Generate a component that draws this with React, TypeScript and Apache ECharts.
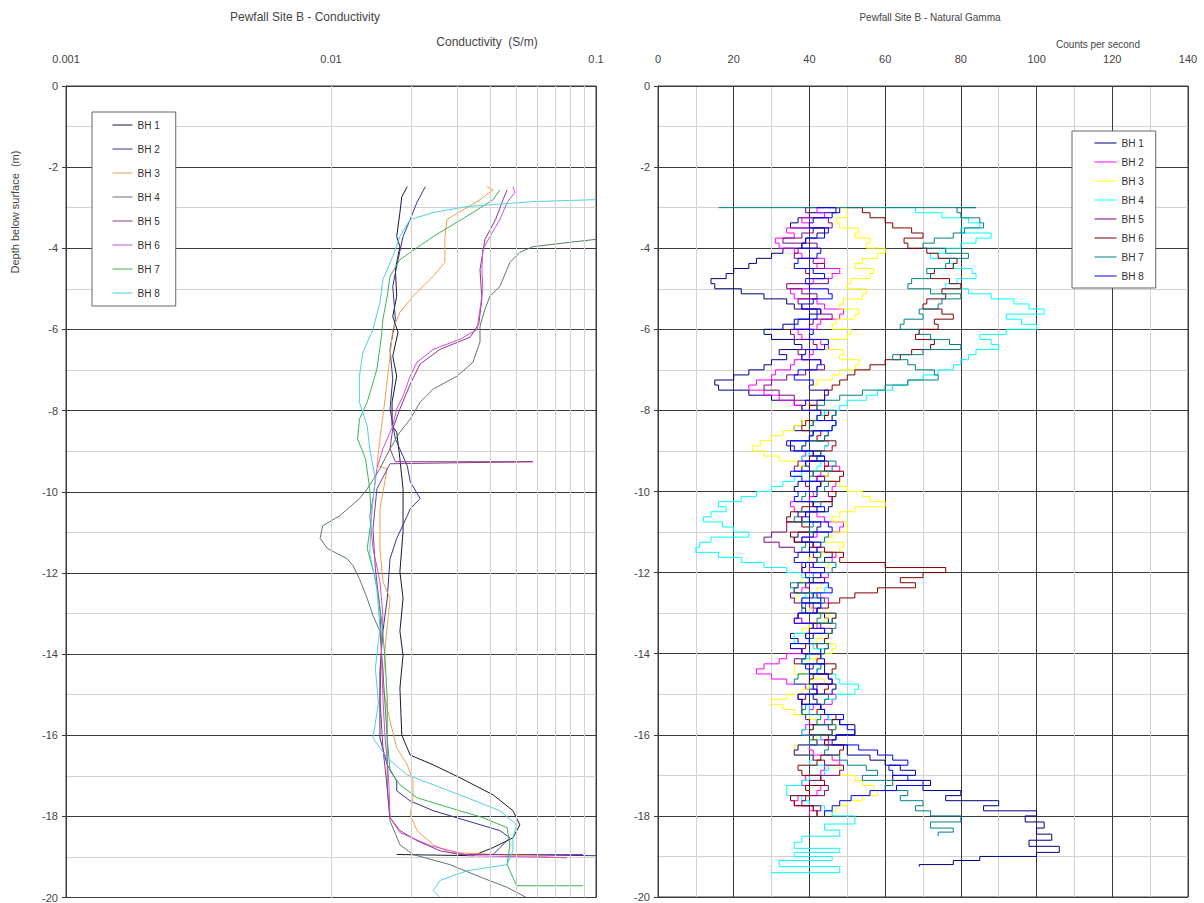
import React, { useEffect, useRef } from "react";
import * as echarts from "echarts";

// ---------- Conductivity (left) ----------
const COND_NAMES = ["BH 1", "BH 2", "BH 3", "BH 4", "BH 5", "BH 6", "BH 7", "BH 8"];
const COND_COLORS = ["#1a1a33", "#333399", "#f0a050", "#5f7a5f", "#8a3a8a", "#d050d0", "#3cb35a", "#50d0e0"];
const LOG_MINOR = [0.002, 0.003, 0.004, 0.005, 0.006, 0.007, 0.008, 0.009, 0.02, 0.03, 0.04, 0.05, 0.06, 0.07, 0.08, 0.09];
const X_TICKS_COND = [0.001, 0.01, 0.1];

const BH1_COND = [[0.0194, -2.48], [0.0185, -2.73], [0.0182, -3.12], [0.0177, -3.71], [0.0182, -3.96], [0.0175, -4.52], [0.0177, -5.18], [0.0171, -5.68], [0.0179, -6.07], [0.0171, -6.66], [0.0177, -7.15], [0.017, -7.79], [0.017, -8.38], [0.0177, -8.53], [0.0182, -9.19], [0.0187, -9.93], [0.0187, -10.98], [0.0182, -11.97], [0.0187, -12.63], [0.0182, -13.44], [0.0187, -14.03], [0.0182, -14.84], [0.0185, -16.0], [0.0199, -16.49], [0.0243, -16.73], [0.0307, -17.05], [0.0409, -17.47], [0.0486, -17.86], [0.0516, -18.21], [0.0486, -18.53], [0.0409, -18.77], [0.0343, -18.97], [0.0177, -18.94]];
const BH2_COND = [[0.0227, -2.48], [0.0211, -2.87], [0.0199, -3.29], [0.0187, -3.71], [0.0179, -4.28], [0.0171, -4.94], [0.0175, -5.75], [0.0167, -6.49], [0.0171, -7.22], [0.0167, -7.96], [0.0175, -8.7], [0.0194, -9.36], [0.0199, -9.75], [0.0217, -10.17], [0.0199, -10.42], [0.0194, -10.59], [0.0177, -11.15], [0.0167, -11.65], [0.0163, -12.63], [0.0157, -13.44], [0.0153, -14.42], [0.0153, -15.26], [0.0153, -16.07], [0.0163, -16.73], [0.0177, -17.13], [0.0177, -17.37], [0.0199, -17.62], [0.0243, -17.86], [0.0326, -18.11], [0.0434, -18.35], [0.0473, -18.53], [0.0434, -18.77], [0.0409, -18.94], [0.1, -18.97]];
const BH3_COND = [[0.0387, -2.48], [0.0409, -2.56], [0.0365, -2.8], [0.0274, -3.29], [0.0269, -3.71], [0.0269, -4.35], [0.0243, -4.69], [0.0204, -5.18], [0.0182, -5.58], [0.0171, -6.0], [0.0167, -6.66], [0.016, -7.71], [0.0153, -8.7], [0.0149, -9.36], [0.0163, -9.43], [0.0153, -10.42], [0.0153, -11.4], [0.0157, -12.21], [0.0167, -12.63], [0.016, -13.86], [0.0157, -14.84], [0.0167, -15.65], [0.0177, -16.31], [0.0194, -16.73], [0.0204, -17.13], [0.0204, -17.54], [0.0199, -17.96], [0.0211, -18.35], [0.0243, -18.7], [0.0281, -18.89], [0.0777, -19.02]];
const BH4_COND = [[0.1, -3.78], [0.0777, -3.86], [0.0578, -3.96], [0.0516, -4.1], [0.0473, -4.35], [0.0434, -4.94], [0.0398, -5.18], [0.0381, -5.5], [0.0365, -5.92], [0.0365, -6.31], [0.0343, -6.81], [0.0299, -7.15], [0.0243, -7.47], [0.0217, -7.79], [0.0199, -8.21], [0.0182, -8.53], [0.0167, -8.94], [0.0153, -9.43], [0.0137, -9.93], [0.0128, -10.17], [0.0108, -10.59], [0.0093, -10.84], [0.0091, -11.15], [0.0097, -11.4], [0.0115, -11.65], [0.0121, -11.82], [0.0128, -12.14], [0.0137, -12.63], [0.0144, -13.05], [0.0153, -13.44], [0.0157, -14.42], [0.0163, -16.07], [0.0163, -17.3], [0.0167, -18.11], [0.0182, -18.7], [0.0204, -18.94], [0.0281, -19.19], [0.0371, -19.51], [0.0462, -19.75], [0.0546, -20.0]];
const BH5_COND = [[0.0462, -2.56], [0.0446, -2.8], [0.0418, -3.29], [0.0381, -3.78], [0.0365, -4.52], [0.0371, -5.26], [0.0361, -5.87], [0.0335, -6.19], [0.0258, -6.49], [0.0217, -6.85], [0.0199, -7.35], [0.0182, -7.96], [0.0171, -8.45], [0.0167, -8.94], [0.0175, -9.26], [0.0578, -9.26], [0.0167, -9.31], [0.0149, -9.93], [0.0144, -10.91], [0.0147, -11.89], [0.0153, -12.87], [0.0155, -13.86], [0.0153, -15.09], [0.0157, -16.31], [0.0163, -17.3], [0.0167, -18.03], [0.0182, -18.35], [0.0211, -18.6], [0.0258, -18.85], [0.0307, -18.94], [0.0893, -18.94]];
const BH6_COND = [[0.0486, -2.48], [0.0494, -2.63], [0.0462, -2.87], [0.0434, -3.29], [0.0398, -3.71], [0.0374, -4.03], [0.0371, -4.52], [0.0374, -5.01], [0.0365, -5.5], [0.0356, -6.0], [0.0307, -6.24], [0.0243, -6.49], [0.0211, -6.81], [0.0199, -7.15], [0.0187, -7.64], [0.0177, -7.96], [0.0171, -8.38], [0.0157, -8.94], [0.0149, -9.43], [0.0144, -10.17], [0.014, -10.59], [0.0144, -11.4], [0.0153, -12.21], [0.0157, -13.05], [0.0155, -13.86], [0.0157, -15.09], [0.016, -16.07], [0.0165, -17.05], [0.0167, -18.03], [0.0182, -18.4], [0.0237, -18.72], [0.0335, -18.97], [0.0777, -19.02]];
const BH7_COND = [[0.0434, -2.56], [0.0409, -2.8], [0.0343, -3.12], [0.0243, -3.71], [0.0182, -4.28], [0.0167, -4.69], [0.0163, -5.18], [0.0157, -5.75], [0.0155, -6.17], [0.0149, -6.98], [0.0137, -7.79], [0.0128, -8.21], [0.0126, -8.7], [0.0135, -9.19], [0.014, -9.93], [0.0142, -10.66], [0.0137, -11.4], [0.0147, -12.14], [0.0155, -13.12], [0.016, -14.1], [0.0163, -15.09], [0.0163, -16.07], [0.0167, -16.88], [0.0182, -17.22], [0.0211, -17.54], [0.0281, -17.79], [0.0374, -18.03], [0.0462, -18.28], [0.0473, -18.7], [0.0462, -19.19], [0.0486, -19.51], [0.0502, -19.71], [0.0893, -19.71]];
const BH8_COND = [[0.1, -2.8], [0.0578, -2.85], [0.0326, -2.97], [0.0243, -3.12], [0.0199, -3.29], [0.0182, -3.71], [0.0171, -4.2], [0.0157, -4.77], [0.0153, -5.33], [0.0144, -6.0], [0.0132, -6.56], [0.0128, -7.15], [0.0128, -7.79], [0.0137, -8.38], [0.014, -8.94], [0.0147, -9.68], [0.0142, -10.66], [0.014, -11.52], [0.0149, -12.38], [0.0153, -13.37], [0.0147, -14.35], [0.0151, -15.21], [0.0144, -16.07], [0.0163, -16.56], [0.0194, -16.98], [0.0243, -17.22], [0.0326, -17.54], [0.0434, -17.86], [0.0502, -18.21], [0.0486, -18.53], [0.0486, -18.85], [0.0462, -19.19], [0.0326, -19.34], [0.0258, -19.58], [0.0243, -19.83], [0.0258, -20.0]];
const COND_DATA = [BH1_COND, BH2_COND, BH3_COND, BH4_COND, BH5_COND, BH6_COND, BH7_COND, BH8_COND];

// ---------- Natural gamma (right) ----------
const GAMMA_NAMES = ["g:BH 1", "g:BH 2", "g:BH 3", "g:BH 4", "g:BH 5", "g:BH 6", "g:BH 7", "g:BH 8"];
const GAMMA_COLORS = ["#000080", "#ff00ff", "#ffff00", "#00ffff", "#800080", "#800000", "#008080", "#0000ff"];
const GAMMA_DEPTH = [
  -3, -3.125, -3.25, -3.375, -3.5, -3.625, -3.75, -3.875,
  -4, -4.125, -4.25, -4.375, -4.5, -4.625, -4.75, -4.875,
  -5, -5.125, -5.25, -5.375, -5.5, -5.625, -5.75, -5.875,
  -6, -6.125, -6.25, -6.375, -6.5, -6.625, -6.75, -6.875,
  -7, -7.125, -7.25, -7.375, -7.5, -7.625, -7.75, -7.875,
  -8, -8.125, -8.25, -8.375, -8.5, -8.625, -8.75, -8.875,
  -9, -9.125, -9.25, -9.375, -9.5, -9.625, -9.75, -9.875,
  -10, -10.125, -10.25, -10.375, -10.5, -10.625, -10.75, -10.875,
  -11, -11.125, -11.25, -11.375, -11.5, -11.625, -11.75, -11.875,
  -12, -12.125, -12.25, -12.375, -12.5, -12.625, -12.75, -12.875,
  -13, -13.125, -13.25, -13.375, -13.5, -13.625, -13.75, -13.875,
  -14, -14.125, -14.25, -14.375, -14.5, -14.625, -14.75, -14.875,
  -15, -15.125, -15.25, -15.375, -15.5, -15.625, -15.75, -15.875,
  -16, -16.125, -16.25, -16.375, -16.5, -16.625, -16.75, -16.875,
  -17, -17.125, -17.25, -17.375, -17.5, -17.625, -17.75, -17.875,
  -18,
];

const BH1_GAMMA = [
  45, 48, 40, 37, 35, 44, 42, 39,
  38, 33, 30, 26, 24, 20, 18, 14,
  15, 22, 28, 34, 36, 42, 40, 36,
  33, 28, 30, 36, 38, 32, 34, 30,
  28, 24, 20, 15, 16, 24, 30, 36,
  38, 44, 42, 38, 36, 41, 40, 34,
  35, 40, 44, 39, 38, 45, 42, 37,
  36, 42, 40, 46, 45, 39, 38, 43,
  42, 37, 36, 41, 40, 46, 44, 39,
  38, 43, 41, 37, 36, 42, 43, 38,
  39, 44, 45, 40, 40, 35, 37, 42,
  43, 39, 38, 44, 44, 40, 40, 47,
  46, 41, 42, 38, 38, 45, 48, 52,
  52, 47, 44, 50, 50, 56, 60, 64,
  68, 62, 72, 70, 80, 76, 90, 86,
  100,
];
const BH1_GAMMA_TAIL = [[97, -18.15], [102, -18.3], [100, -18.45], [104, -18.6], [98, -18.75], [106, -18.9], [100, -19.0], [85, -19.1], [78, -19.2], [69, -19.25]];
const BH2_GAMMA = [
  48, 42, 44, 38, 40, 34, 36, 31,
  32, 36, 38, 44, 42, 48, 46, 41,
  40, 35, 36, 42, 44, 49, 48, 43,
  42, 37, 38, 43, 45, 41, 40, 36,
  35, 31, 30, 26, 24, 28, 32, 36,
  38, 43, 42, 47, 46, 41, 40, 45,
  44, 39, 38, 44, 48, 43, 42, 47,
  46, 41, 40, 35, 36, 42, 44, 49,
  48, 42, 38, 41, 42, 47, 46, 41,
  40, 45, 44, 39, 38, 43, 45, 40,
  41, 37, 36, 42, 44, 39, 40, 35,
  38, 34, 32, 28, 26, 30, 34, 39,
  42, 47, 46, 41, 40, 45, 44, 39,
  38, 43, 45, 40, 41, 46, 48, 44,
  43, 39, 38, 43, 42, 37, 36, 41,
  40,
];
const BH3_GAMMA = [
  46, 50, 50, 47, 48, 53, 52, 56,
  55, 60, 58, 54, 52, 57, 56, 51,
  50, 55, 54, 49, 48, 53, 52, 47,
  46, 51, 50, 45, 44, 49, 48, 53,
  52, 48, 46, 42, 40, 45, 44, 40,
  38, 43, 42, 38, 36, 33, 30, 27,
  25, 28, 32, 37, 40, 45, 44, 48,
  50, 54, 56, 60, 52, 48, 46, 50,
  50, 46, 44, 49, 48, 43, 40, 45,
  44, 40, 38, 43, 42, 37, 36, 41,
  40, 45, 44, 40, 38, 43, 42, 47,
  46, 42, 40, 36, 36, 41, 44, 40,
  38, 34, 30, 33, 36, 40, 42, 47,
  46, 42, 40, 36, 36, 41, 44, 48,
  48, 52, 54, 57, 58, 54, 50, 47,
  46,
];
const BH4_GAMMA = [
  60, 68, 75, 82, 85, 80, 88, 84,
  80, 76, 72, 77, 78, 83, 84, 79,
  76, 82, 88, 94, 98, 102, 92, 96,
  100, 92, 85, 88, 90, 84, 82, 80,
  78, 74, 70, 66, 62, 58, 55, 50,
  48, 44, 42, 47, 46, 41, 40, 45,
  44, 40, 38, 43, 42, 38, 36, 33,
  30, 26, 22, 16, 18, 14, 12, 17,
  20, 24, 14, 11, 10, 16, 22, 28,
  34, 38, 40, 45, 44, 39, 38, 43,
  42, 47, 46, 41, 40, 36, 36, 41,
  44, 40, 38, 43, 42, 47, 48, 53,
  52, 47, 44, 40, 40, 45, 46, 41,
  38, 43, 42, 37, 36, 41, 40, 45,
  44, 40, 38, 34, 34, 38, 40, 44,
  46,
];
const BH4_GAMMA_TAIL = [[52, -18.2], [44, -18.35], [48, -18.5], [38, -18.65], [36, -18.8], [48, -18.9], [36, -19.0], [46, -19.1], [32, -19.25], [48, -19.4], [30, -19.45]];
const BH5_GAMMA = [
  44, 39, 40, 45, 46, 41, 38, 33,
  42, 37, 36, 41, 44, 39, 40, 45,
  34, 38, 42, 37, 38, 43, 46, 41,
  40, 35, 36, 41, 42, 37, 38, 43,
  44, 39, 34, 30, 28, 32, 36, 40,
  42, 47, 46, 41, 40, 45, 44, 39,
  38, 43, 42, 37, 36, 41, 44, 39,
  40, 45, 46, 41, 42, 37, 38, 34,
  34, 30, 28, 32, 36, 41, 42, 38,
  38, 43, 44, 39, 40, 35, 36, 41,
  42, 37, 38, 43, 46, 41, 40, 45,
  44, 39, 36, 41, 40, 45, 46, 42,
  42, 37, 38, 43, 44, 39, 40, 45,
  46, 41, 42, 37, 36, 41, 44, 49,
  48, 43, 40, 45, 44, 39, 38, 43,
  42,
];
const BH6_GAMMA = [
  50, 54, 56, 60, 62, 67, 70, 65,
  66, 71, 74, 79, 78, 73, 72, 77,
  80, 75, 76, 71, 70, 75, 78, 73,
  74, 69, 68, 73, 72, 67, 64, 60,
  56, 52, 50, 48, 46, 44, 44, 42,
  40, 45, 44, 39, 38, 43, 42, 47,
  46, 41, 40, 45, 44, 49, 48, 43,
  42, 47, 46, 41, 38, 35, 34, 38,
  40, 35, 36, 41, 44, 49, 48, 60,
  76, 70, 64, 68, 58, 52, 48, 45,
  42, 47, 46, 41, 40, 45, 44, 39,
  38, 43, 42, 47, 46, 41, 40, 45,
  44, 39, 38, 43, 42, 47, 46, 41,
  40, 45, 44, 49, 48, 43, 42, 37,
  38, 43, 44, 39, 40, 35, 36, 41,
  42,
];
const BH7_GAMMA_HEAD = [[16, -3.0]];
const BH7_GAMMA = [
  84, 79, 80, 85, 86, 81, 78, 73,
  70, 76, 82, 77, 76, 71, 72, 67,
  66, 72, 80, 75, 74, 69, 70, 65,
  64, 69, 72, 77, 80, 70, 62, 66,
  68, 73, 74, 66, 60, 54, 48, 44,
  42, 47, 46, 41, 40, 45, 44, 39,
  38, 43, 42, 47, 46, 41, 40, 45,
  44, 39, 38, 43, 42, 37, 36, 41,
  40, 45, 44, 39, 38, 43, 42, 47,
  46, 41, 40, 35, 36, 41, 44, 39,
  38, 43, 42, 47, 46, 41, 40, 45,
  44, 39, 38, 43, 42, 37, 36, 41,
  40, 45, 44, 39, 38, 43, 42, 47,
  46, 41, 40, 45, 44, 48, 50, 55,
  58, 54, 62, 60, 66, 64, 70, 68,
  72,
];
const BH7_GAMMA_TAIL = [[80, -18.15], [72, -18.3], [78, -18.4], [74, -18.5]];
const BH8_GAMMA = [
  42, 47, 46, 41, 40, 45, 44, 39,
  38, 43, 42, 37, 36, 41, 44, 39,
  40, 45, 46, 41, 38, 43, 42, 37,
  36, 41, 40, 45, 44, 39, 38, 43,
  42, 37, 36, 41, 40, 45, 44, 39,
  38, 43, 42, 47, 46, 41, 40, 35,
  36, 41, 44, 39, 40, 35, 38, 43,
  42, 37, 36, 41, 44, 39, 40, 45,
  46, 41, 38, 43, 42, 37, 36, 41,
  44, 39, 40, 45, 46, 41, 38, 43,
  42, 37, 36, 41, 44, 39, 40, 35,
  38, 43, 44, 39, 40, 45, 46, 41,
  42, 37, 38, 43, 44, 49, 48, 50,
  52, 47, 46, 53, 58, 62, 66, 61,
  62, 66, 70, 63, 56, 51, 48, 46,
  44,
];

const GAMMA_VALUES = [BH1_GAMMA, BH2_GAMMA, BH3_GAMMA, BH4_GAMMA, BH5_GAMMA, BH6_GAMMA, BH7_GAMMA, BH8_GAMMA];
const GAMMA_HEADS = [[], [], [], [], [], [], BH7_GAMMA_HEAD, []];
const GAMMA_TAILS = [BH1_GAMMA_TAIL, [], [], BH4_GAMMA_TAIL, [], [], BH7_GAMMA_TAIL, []];

const FONT = "Liberation Sans";
const TEXT_COLOR = "#444";
const MAJOR = "#3a3a3a";
const MINOR = "#d2d2d2";

function buildOption() {
  const yAxisBase = (gridIndex: number) => ({
    type: "value",
    gridIndex,
    min: -20,
    max: 0,
    interval: 2,
    axisLine: { show: true, lineStyle: { color: MAJOR } },
    axisTick: { show: true, length: 4, lineStyle: { color: MAJOR } },
    axisLabel: { fontSize: 11, color: TEXT_COLOR, margin: 8, fontFamily: FONT },
    splitLine: { show: true, lineStyle: { color: MAJOR, width: 1 } },
    minorTick: { show: false, splitNumber: 2 },
    minorSplitLine: { show: true, lineStyle: { color: MINOR, width: 1 } },
  });

  const condSeries: any[] = COND_DATA.map((d, i) => ({
    name: COND_NAMES[i],
    type: "line",
    xAxisIndex: 0,
    yAxisIndex: 0,
    data: d,
    symbol: "none",
    showSymbol: false,
    lineStyle: { width: 1, color: COND_COLORS[i] },
    itemStyle: { color: COND_COLORS[i] },
    z: 3,
  }));

  const minorGrid = {
    name: "log-minor",
    type: "line",
    xAxisIndex: 0,
    yAxisIndex: 0,
    data: [[0.01, 0]],
    symbol: "none",
    showSymbol: false,
    lineStyle: { opacity: 0 },
    silent: true,
    z: 1,
    markLine: {
      silent: true,
      symbol: ["none", "none"],
      label: { show: false },
      lineStyle: { color: MINOR, width: 1, type: "solid" },
      emphasis: { disabled: true },
      data: LOG_MINOR.map((v) => ({ xAxis: v })),
    },
  };

  const gammaSeries: any[] = GAMMA_VALUES.map((vals, i) => {
    const main = GAMMA_DEPTH.map((d, k) => [vals[k], d]);
    const data = [...GAMMA_HEADS[i], ...main, ...GAMMA_TAILS[i]];
    return {
      name: GAMMA_NAMES[i],
      type: "line",
      xAxisIndex: 1,
      yAxisIndex: 1,
      data,
      step: "end",
      symbol: "none",
      showSymbol: false,
      lineStyle: { width: 1, color: GAMMA_COLORS[i] },
      itemStyle: { color: GAMMA_COLORS[i] },
      z: 3,
    };
  });

  const legendCommon = {
    orient: "vertical",
    itemHeight: 10,
    borderColor: "#666",
    borderWidth: 1,
    backgroundColor: "#fff",
    selectedMode: false,
    itemStyle: { opacity: 0 },
    lineStyle: { width: 1 },
    textStyle: { fontSize: 10, color: "#333", fontFamily: FONT },
  };

  return {
    animation: false,
    textStyle: { fontFamily: FONT },
    grid: [
      { left: 66, top: 86, width: 530, height: 814, show: true, borderColor: MAJOR, borderWidth: 1, backgroundColor: "transparent" },
      { left: 658, top: 86, width: 530, height: 811, show: true, borderColor: MAJOR, borderWidth: 1, backgroundColor: "transparent" },
    ],
    xAxis: [
      {
        type: "log",
        logBase: 10,
        gridIndex: 0,
        position: "top",
        min: X_TICKS_COND[0],
        max: X_TICKS_COND[X_TICKS_COND.length - 1],
        axisLine: { show: true, lineStyle: { color: MAJOR } },
        axisTick: { show: false },
        axisLabel: {
          fontSize: 11,
          color: TEXT_COLOR,
          margin: 22,
          fontFamily: FONT,
          formatter: (v: number) => String(Number(v.toPrecision(1))),
        },
        splitLine: { show: true, lineStyle: { color: MAJOR, width: 1 } },
      },
      {
        type: "value",
        gridIndex: 1,
        position: "top",
        min: 0,
        max: 140,
        interval: 20,
        axisLine: { show: true, lineStyle: { color: MAJOR } },
        axisTick: { show: false },
        axisLabel: { fontSize: 11, color: TEXT_COLOR, margin: 22, fontFamily: FONT },
        splitLine: { show: true, lineStyle: { color: MAJOR, width: 1 } },
        minorTick: { show: false, splitNumber: 2 },
        minorSplitLine: { show: true, lineStyle: { color: MINOR, width: 1 } },
      },
    ],
    yAxis: [yAxisBase(0), yAxisBase(1)],
    legend: [
      {
        ...legendCommon,
        data: COND_NAMES,
        left: 92,
        top: 112,
        itemWidth: 20,
        itemGap: 14,
        padding: [8, 16, 8, 20],
      },
      {
        ...legendCommon,
        data: GAMMA_NAMES,
        left: 1072,
        top: 131,
        itemWidth: 22,
        itemGap: 9,
        padding: [7, 12, 7, 22],
        formatter: (n: string) => n.replace("g:", ""),
      },
    ],
    graphic: [
      { type: "text", x: 305, y: 17, style: { text: "Pewfall Site B - Conductivity", fill: TEXT_COLOR, fontSize: 12, fontFamily: FONT, align: "center", verticalAlign: "middle" } },
      { type: "text", x: 487, y: 42, style: { text: "Conductivity  (S/m)", fill: TEXT_COLOR, fontSize: 12, fontFamily: FONT, align: "center", verticalAlign: "middle" } },
      { type: "text", x: 930, y: 17, style: { text: "Pewfall Site B - Natural Gamma", fill: TEXT_COLOR, fontSize: 10, fontFamily: FONT, align: "center", verticalAlign: "middle" } },
      { type: "text", x: 1098, y: 44, style: { text: "Counts per second", fill: TEXT_COLOR, fontSize: 10, fontFamily: FONT, align: "center", verticalAlign: "middle" } },
      { type: "text", x: 15, y: 212, rotation: Math.PI / 2, style: { text: "Depth below surface  (m)", fill: TEXT_COLOR, fontSize: 11, fontFamily: FONT, align: "center", verticalAlign: "middle" } },
    ],
    series: [minorGrid, ...condSeries, ...gammaSeries],
  };
}

export default function App() {
  const ref = useRef<HTMLDivElement>(null);
  useEffect(() => {
    if (!ref.current) return;
    const chart = echarts.init(ref.current, undefined, { renderer: "svg" });
    chart.setOption(buildOption() as any);
    return () => chart.dispose();
  }, []);
  return (
    <div
      ref={ref}
      style={{ position: "absolute", left: 0, top: 0, width: 1204, height: 903, background: "#fff" }}
    />
  );
}
